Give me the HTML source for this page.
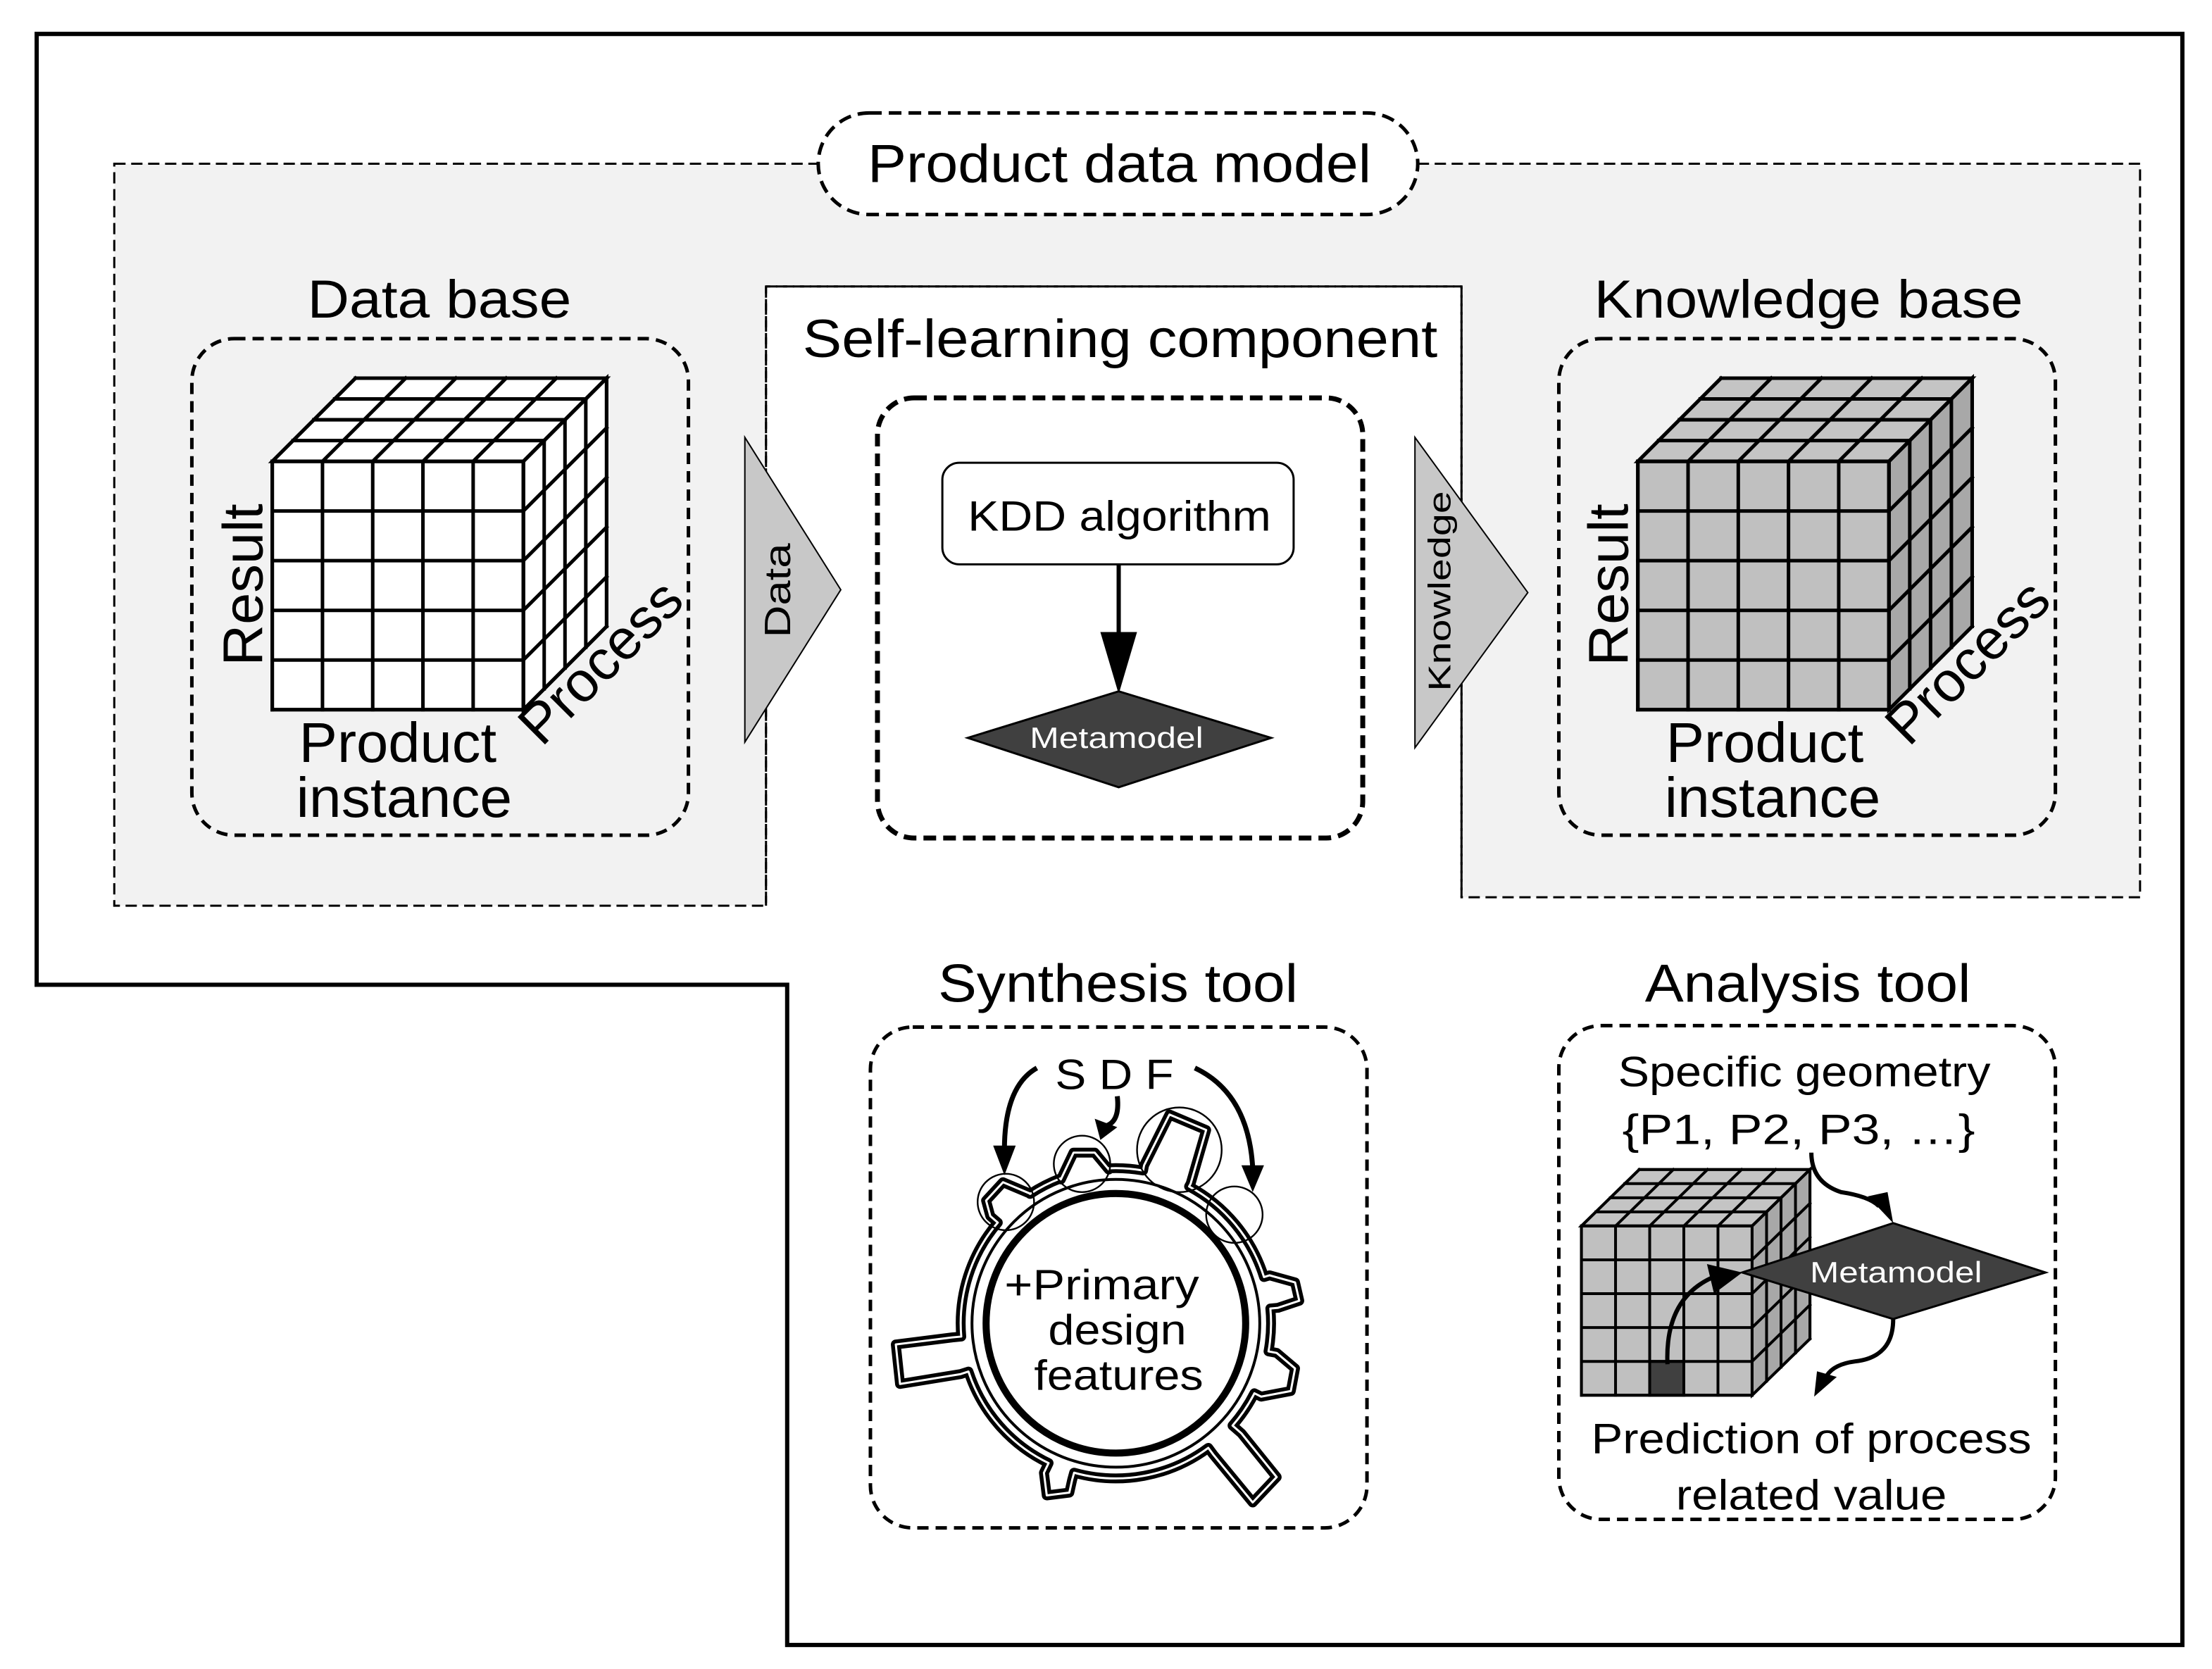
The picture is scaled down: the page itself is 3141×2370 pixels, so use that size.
<!DOCTYPE html>
<html><head><meta charset="utf-8"><style>
html,body{margin:0;padding:0;background:#fff}
svg{display:block}
text{font-family:"Liberation Sans",Arial,sans-serif;fill:#000}
</style></head><body>
<svg id="s" width="3141" height="2370" viewBox="0 0 1568 1183" xmlns="http://www.w3.org/2000/svg" font-family="Liberation Sans, Arial, sans-serif">
<rect width="1568" height="1183" fill="#fff"/>
<polygon points="26,24 1547,24 1547,1166 558,1166 558,698 26,698" fill="none" stroke="#000" stroke-width="3"/>
<polygon points="81,116 1517,116 1517,636 1036,636 1036,203 543,203 543,642 81,642" fill="#f2f2f2" stroke="#000" stroke-width="1.5" stroke-dasharray="8,4"/>
<rect x="544" y="204" width="491" height="440" fill="#fff"/>
<line x1="543" y1="203" x2="543" y2="642" stroke="#000" stroke-width="1.5" stroke-dasharray="8,4"/>
<line x1="1036" y1="203" x2="1036" y2="636" stroke="#000" stroke-width="1.5" stroke-dasharray="8,4"/>
<line x1="543" y1="203" x2="1036" y2="203" stroke="#000" stroke-width="1.5" stroke-dasharray="8,4"/>
<rect x="580" y="80" width="425" height="72" rx="36" fill="#fff" stroke="#000" stroke-width="2.5" stroke-dasharray="9,5"/>
<text x="615" y="129" font-size="38" textLength="357" lengthAdjust="spacingAndGlyphs">Product data model</text>

<text x="218" y="225" font-size="38" textLength="187" lengthAdjust="spacingAndGlyphs">Data base</text>
<rect x="136" y="240" width="352" height="352" rx="30" fill="none" stroke="#000" stroke-width="2.5" stroke-dasharray="8,5"/>
<g id="cube1"></g>
<text transform="translate(186,472) rotate(-90)" font-size="40" textLength="115" lengthAdjust="spacingAndGlyphs">Result</text>
<text x="212" y="540" font-size="40" textLength="140" lengthAdjust="spacingAndGlyphs">Product</text>
<text x="210" y="579" font-size="40" textLength="153" lengthAdjust="spacingAndGlyphs">instance</text>
<text transform="translate(384,530) rotate(-45)" font-size="40" textLength="145" lengthAdjust="spacingAndGlyphs">Process</text>

<polygon points="528,310 528,526 596,418" fill="#c8c8c8" stroke="#000" stroke-width="1"/>
<text transform="translate(560,452) rotate(-90)" font-size="26" textLength="67" lengthAdjust="spacingAndGlyphs">Data</text>

<text x="569" y="253" font-size="38" textLength="450" lengthAdjust="spacingAndGlyphs">Self-learning component</text>
<rect x="622" y="282" width="344" height="312" rx="26" fill="none" stroke="#000" stroke-width="3.5" stroke-dasharray="9,5"/>
<rect x="668" y="328" width="249" height="72" rx="12" fill="#fff" stroke="#000" stroke-width="1.5"/>
<text x="686" y="376" font-size="30" textLength="215" lengthAdjust="spacingAndGlyphs">KDD algorithm</text>
<line x1="793" y1="400" x2="793" y2="455" stroke="#000" stroke-width="3"/>
<polygon points="780,448 806,448 793,492" fill="#000"/>
<polygon points="686,523 793,490 901,523 793,558" fill="#404040" stroke="#000" stroke-width="1.5"/>
<text x="730" y="530" font-size="21" textLength="123" lengthAdjust="spacingAndGlyphs" style="fill:#fff">Metamodel</text>

<polygon points="1003,310 1003,530 1083,420" fill="#c8c8c8" stroke="#000" stroke-width="1"/>
<text transform="translate(1028,490) rotate(-90)" font-size="22" textLength="142" lengthAdjust="spacingAndGlyphs">Knowledge</text>

<text x="1130" y="225" font-size="38" textLength="304" lengthAdjust="spacingAndGlyphs">Knowledge base</text>
<rect x="1105" y="240" width="352" height="352" rx="30" fill="none" stroke="#000" stroke-width="2.5" stroke-dasharray="8,5"/>
<g id="cube2"></g>
<text transform="translate(1154,472) rotate(-90)" font-size="40" textLength="115" lengthAdjust="spacingAndGlyphs">Result</text>
<text x="1181" y="540" font-size="40" textLength="140" lengthAdjust="spacingAndGlyphs">Product</text>
<text x="1180" y="579" font-size="40" textLength="153" lengthAdjust="spacingAndGlyphs">instance</text>
<text transform="translate(1353,530) rotate(-45)" font-size="40" textLength="145" lengthAdjust="spacingAndGlyphs">Process</text>

<text x="665" y="710" font-size="38" textLength="255" lengthAdjust="spacingAndGlyphs">Synthesis tool</text>
<rect x="617" y="728" width="352" height="355" rx="30" fill="none" stroke="#000" stroke-width="2.5" stroke-dasharray="8,5"/>
<text x="748" y="772" font-size="30" textLength="84" lengthAdjust="spacingAndGlyphs">S D F</text>
<g id="gear"></g>
<g fill="none" stroke="#000" stroke-width="1.2">
<circle cx="713" cy="852" r="20"/>
<circle cx="767" cy="825" r="20"/>
<circle cx="836" cy="815" r="30"/>
<circle cx="875" cy="861" r="20"/>
</g>
<g fill="none" stroke="#000" stroke-width="3.5">
<path d="M735,757 Q712,770 712,815"/>
<path d="M792,777 Q794,795 784,798"/>
<path d="M847,757 Q885,775 888,828"/>
</g>
<g fill="#000">
<polygon points="704,812 720,812 712,833"/>
<polygon points="776,793 792,799 780,808"/>
<polygon points="880,826 896,826 888,845"/>
</g>
<text x="712" y="921" font-size="30" textLength="138" lengthAdjust="spacingAndGlyphs">+Primary</text>
<text x="743" y="953" font-size="30" textLength="98" lengthAdjust="spacingAndGlyphs">design</text>
<text x="733" y="985" font-size="30" textLength="120" lengthAdjust="spacingAndGlyphs">features</text>

<text x="1166" y="710" font-size="38" textLength="231" lengthAdjust="spacingAndGlyphs">Analysis tool</text>
<rect x="1105" y="727" width="352" height="350" rx="30" fill="none" stroke="#000" stroke-width="2.5" stroke-dasharray="8,5"/>
<text x="1147" y="770" font-size="30" textLength="264" lengthAdjust="spacingAndGlyphs">Specific geometry</text>
<text x="1150" y="811" font-size="30" textLength="250" lengthAdjust="spacingAndGlyphs">{P1, P2, P3, …}</text>
<g id="cube3"></g>
<polygon points="1235,902 1342,867 1450,902 1342,935" fill="#404040" stroke="#000" stroke-width="1.5"/>
<text x="1283" y="909" font-size="21" textLength="122" lengthAdjust="spacingAndGlyphs" style="fill:#fff">Metamodel</text>
<g fill="none" stroke="#000" stroke-width="3">
<path d="M1284,817 Q1284,838 1305,845 Q1325,848 1332,855"/>
<path d="M1342,935 Q1342,962 1315,965 Q1300,967 1295,975"/>
<path d="M1182,967 Q1180,920 1215,905"/>
</g>
<g fill="#000">
<polygon points="1324,848 1338,845 1342,867"/>
<polygon points="1288,972 1302,976 1286,990"/>
<polygon points="1210,896 1235,902 1215,917"/>
</g>
<text x="1128" y="1030" font-size="30" textLength="312" lengthAdjust="spacingAndGlyphs">Prediction of process</text>
<text x="1188" y="1070" font-size="30" textLength="192" lengthAdjust="spacingAndGlyphs">related value</text>
</svg>
<script>
function cube(id,x0,y0,w,h,n,dx,dy,d,ff,tf,sf,sw,dark){
 var g=document.getElementById(id),s='';
 var cw=w/n,ch=h/n;
 s+='<polygon points="'+x0+','+y0+' '+(x0+w)+','+y0+' '+(x0+w+dx)+','+(y0+dy)+' '+(x0+dx)+','+(y0+dy)+'" fill="'+tf+'"/>';
 s+='<polygon points="'+(x0+w)+','+y0+' '+(x0+w+dx)+','+(y0+dy)+' '+(x0+w+dx)+','+(y0+h+dy)+' '+(x0+w)+','+(y0+h)+'" fill="'+sf+'"/>';
 s+='<rect x="'+x0+'" y="'+y0+'" width="'+w+'" height="'+h+'" fill="'+ff+'"/>';
 if(dark) s+='<rect x="'+(x0+2*cw)+'" y="'+(y0+4*ch)+'" width="'+cw+'" height="'+ch+'" fill="#404040"/>';
 var L=function(a,b,c,e){s+='<line x1="'+a+'" y1="'+b+'" x2="'+c+'" y2="'+e+'"/>';};
 for(var i=0;i<=n;i++){L(x0+i*cw,y0,x0+i*cw,y0+h);L(x0,y0+i*ch,x0+w,y0+i*ch);
  L(x0+i*cw,y0,x0+i*cw+dx,y0+dy);L(x0+w,y0+i*ch,x0+w+dx,y0+i*ch+dy);}
 for(var j=0;j<=d;j++){var ox=j*dx/d,oy=j*dy/d;L(x0+ox,y0+oy,x0+w+ox,y0+oy);L(x0+w+ox,y0+oy,x0+w+ox,y0+h+oy);}
 g.setAttribute('stroke','#000');g.setAttribute('stroke-width',sw);g.setAttribute('stroke-linecap','square');
 g.innerHTML=s;
}
cube('cube1',193,327,178,176,5,59,-59,4,'#fff','#fff','#fff',2.5,false);
cube('cube2',1161,327,178,176,5,59,-59,4,'#c0c0c0','#c4c4c4','#a8a8a8',2.5,false);
cube('cube3',1121,869,121,120,5,41,-40,4,'#c0c0c0','#c4c4c4','#a8a8a8',2,true);
(function(){
 var cx=791,cy=938,R=110;
 var teeth=[
  [[702,862],[699,851],[711,838],[730,846]],
  [[752,836],[761,817],[776,817],[786,829]],
  [[811,826],[829,790],[855,801],[844,839]],
  [[900,904],[918,909],[921,922],[906,927]],
  [[905,959],[918,970],[915,986],[894,990]],
  [[880,1016],[905,1047],[888,1065],[860,1031]],
  [[760,1049],[758,1058],[742,1060],[740,1044]],
  [[681,974],[638,981],[635,953],[675,948]]];
 function proj(p){var a=Math.atan2(p[1]-cy,p[0]-cx);return [cx+R*Math.cos(a),cy+R*Math.sin(a)];}
 var d='';
 teeth.forEach(function(t,i){
  var s=proj(t[0]),e=proj(t[t.length-1]);
  d+=(i==0?'M':'A'+R+','+R+' 0 0 1 ')+s[0].toFixed(1)+','+s[1].toFixed(1)+' ';
  t.forEach(function(p){d+='L'+p[0]+','+p[1]+' ';});
  d+='L'+e[0].toFixed(1)+','+e[1].toFixed(1)+' ';
 });
 var s0=proj(teeth[0][0]);
 d+='A'+R+','+R+' 0 0 1 '+s0[0].toFixed(1)+','+s0[1].toFixed(1)+' Z';
 var g=document.getElementById('gear');
 g.innerHTML='<path d="'+d+'" fill="#fff" stroke="#000" stroke-width="7" stroke-linejoin="round"/>'+
 '<path d="'+d+'" fill="none" stroke="#fff" stroke-width="1.5" stroke-linejoin="round"/>'+
 '<circle cx="'+cx+'" cy="'+cy+'" r="102" fill="none" stroke="#000" stroke-width="2"/>'+
 '<circle cx="'+cx+'" cy="'+cy+'" r="92" fill="#fff" stroke="#000" stroke-width="5"/>';
})();
</script>
</body></html>
